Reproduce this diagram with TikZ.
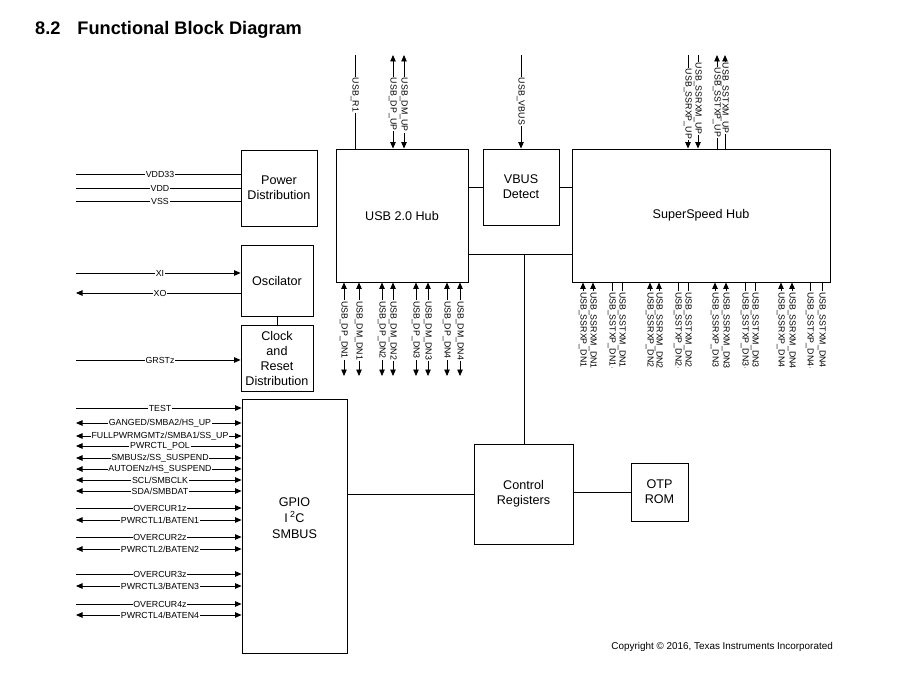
\documentclass[tikz,border=0pt]{standalone}
\usepackage{fontspec}
\setmainfont{Liberation Sans}
\usetikzlibrary{arrows.meta}
\begin{document}
\begin{tikzpicture}[x=1pt,y=-1pt,
  >={Triangle[length=6.5pt,width=5.5pt]},
  blk/.style={draw, line width=0.9pt, inner sep=0pt, align=center, font=\fontsize{12.6}{15}\selectfont},
  wire/.style={line width=0.8pt},
  lbl/.style={fill=white, inner sep=0.8pt, font=\fontsize{8.8}{10}\selectfont},
  vlbl/.style={lbl, inner ysep=0pt, inner xsep=0.8pt, text height=6.6pt, text depth=1.6pt, rotate=-90, anchor=west},
]
\useasboundingbox (0,0) rectangle (909,676);

% title and copyright
\node[anchor=base west, inner sep=0pt, font=\bfseries\fontsize{18.2}{21}\selectfont] (title) at (35,35) {8.2\hspace{0.93em}Functional Block Diagram};
\node[anchor=base east, inner sep=0pt, font=\fontsize{9.9}{11}\selectfont] (copy) at (833,649) {Copyright \textcopyright{} 2016, Texas Instruments Incorporated};

% blocks
\node[blk, minimum width=76pt, minimum height=76pt] (pwr) at (279,188) {Power\\Distribution};
\node[blk, minimum width=72pt, minimum height=71pt] (osc) at (277,280.5) {Oscilator};
\node[blk, minimum width=72pt, minimum height=66pt] (clk) at (277,358) {Clock\\and\\Reset\\Distribution};
\node[blk, minimum width=105pt, minimum height=254pt] (gpio) at (294.5,526) {};
\node[align=center, inner sep=0pt, font=\fontsize{12.6}{16}\selectfont] (gpiot) at (294.5,518) {GPIO\\I\,\textsuperscript{2}C\\SMBUS};
\node[blk, minimum width=132pt, minimum height=133pt] (usb) at (402,215.5) {USB 2.0 Hub};
\node[blk, minimum width=76pt, minimum height=76pt] (vbus) at (521,187) {VBUS\\Detect};
\node[blk, minimum width=258pt, minimum height=133pt] (ss) at (701,215.5) {SuperSpeed Hub};
\node[blk, minimum width=99pt, minimum height=100pt] (cr) at (523.5,494) {Control\\Registers};
\node[blk, minimum width=57pt, minimum height=58pt] (otp) at (659.5,492) {OTP\\ROM};

% internal connections
\draw[wire] (usb.east |- vbus.west) -- (vbus.west);
\draw[wire] (vbus.east) -- (vbus.east -| ss.west);
\coordinate (bus) at (524,254);
\draw[wire] (bus -| usb.east) -- (bus -| ss.west);
\draw[wire] (bus) -- (bus |- cr.north);
\draw[wire] (cr.west -| gpio.east) -- (cr.west);
\draw[wire] (otp.west -| cr.east) -- (otp.west);
\draw[wire] (osc.south) -- (clk.north);

% power pins
\foreach \y/\t [count=\i] in {174/VDD33,188/VDD,201/VSS} {
  \coordinate (pw\i) at (76,\y);
  \draw[wire] (pw\i) -- (pw\i -| pwr.west);
  \node[lbl] at (160,\y) {\t};
}

% oscillator / reset pins
\coordinate (xi) at (76,273);
\draw[wire,->] (xi) -- (xi -| osc.west);
\node[lbl] at (160,273) {XI};
\coordinate (xo) at (76,293);
\draw[wire,<-] (xo) -- (xo -| osc.west);
\node[lbl] at (160,293) {XO};
\coordinate (grst) at (76,360);
\draw[wire,->] (grst) -- (grst -| clk.west);
\node[lbl] at (160,360) {GRSTz};

% GPIO pins
\foreach \y/\t/\dir [count=\i] in {
  408/{TEST}/->,
  423/{GANGED/SMBA2/HS\_UP}/<->,
  436/{FULLPWRMGMTz/SMBA1/SS\_UP}/<->,
  446/{PWRCTL\_POL}/<->,
  458/{SMBUSz/SS\_SUSPEND}/<->,
  469/{AUTOENz/HS\_SUSPEND}/<->,
  480/{SCL/SMBCLK}/<->,
  491/{SDA/SMBDAT}/<->,
  508/{OVERCUR1z}/->,
  520/{PWRCTL1/BATEN1}/<->,
  537/{OVERCUR2z}/->,
  549/{PWRCTL2/BATEN2}/<->,
  574/{OVERCUR3z}/->,
  586/{PWRCTL3/BATEN3}/<->,
  604/{OVERCUR4z}/->,
  615/{PWRCTL4/BATEN4}/<->} {
  \coordinate (gp\i) at (76,\y);
  \draw[wire,\dir] (gp\i) -- (gp\i -| gpio.west);
  \node[lbl] at (160,\y) {\t};
}

% USB 2.0 top pins
\coordinate (ur1) at (355,55);
\draw[wire] (ur1) -- (ur1 |- usb.north);
\node[vlbl] at (355,77) {USB\_R1};
\coordinate (udp) at (393,55);
\draw[wire,<->] (udp) -- (udp |- usb.north);
\node[vlbl] at (393,77) {USB\_DP\_UP};
\coordinate (udm) at (404,55);
\draw[wire,<->] (udm) -- (udm |- usb.north);
\node[vlbl] at (404,77) {USB\_DM\_UP};
\coordinate (uvb) at (521,55);
\draw[wire,->] (uvb) -- (uvb |- vbus.north);
\node[vlbl] at (521,77) {USB\_VBUS};

% SuperSpeed top pins
\coordinate (st1) at (688,55);
\coordinate (st2) at (698,55);
\coordinate (st3) at (717,55);
\coordinate (st4) at (725,55);
\draw[wire,->] (st1) -- (st1 |- ss.north);
\draw[wire,->] (st2) -- (st2 |- ss.north);
\draw[wire,->] (st3 |- ss.north) -- (st3);
\draw[wire,->] (st4 |- ss.north) -- (st4);
\foreach \x/\s/\t in {688/68/USB\_SSRXP\_UP, 698/62/USB\_SSRXM\_UP, 717/67/USB\_SSTXP\_UP, 725/62/USB\_SSTXM\_UP} {
  \node[vlbl] at (\x,\s) {\t};
}

% USB 2.0 bottom pins
\foreach \x/\t [count=\i] in {344/USB\_DP\_DN1, 359/USB\_DM\_DN1, 382/USB\_DP\_DN2, 393/USB\_DM\_DN2, 416/USB\_DP\_DN3, 428/USB\_DM\_DN3, 447/USB\_DP\_DN4, 460/USB\_DM\_DN4} {
  \coordinate (ub\i) at (\x,376);
  \draw[wire,<->] (ub\i |- usb.south) -- (ub\i);
  \node[vlbl] at (\x,300) {\t};
}

% SuperSpeed bottom pins
\foreach \x/\t/\dir [count=\i] in {
  583/USB\_SSRXP\_DN1/<-, 593/USB\_SSRXM\_DN1/<-, 612/USB\_SSTXP\_DN1/->, 622/USB\_SSTXM\_DN1/->,
  650/USB\_SSRXP\_DN2/<-, 659/USB\_SSRXM\_DN2/<-, 678/USB\_SSTXP\_DN2/->, 688/USB\_SSTXM\_DN2/->,
  715/USB\_SSRXP\_DN3/<-, 726/USB\_SSRXM\_DN3/<-, 745/USB\_SSTXP\_DN3/->, 755/USB\_SSTXM\_DN3/->,
  781/USB\_SSRXP\_DN4/<-, 792/USB\_SSRXM\_DN4/<-, 810/USB\_SSTXP\_DN4/->, 822/USB\_SSTXM\_DN4/->} {
  \coordinate (sb\i) at (\x,368);
  \draw[wire,\dir] (sb\i |- ss.south) -- (sb\i);
  \node[vlbl] at (\x,291) {\t};
}
\end{tikzpicture}
\end{document}
